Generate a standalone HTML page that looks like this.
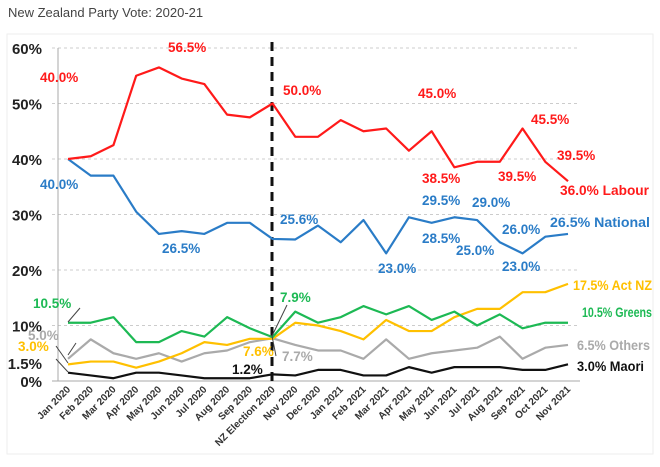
<!DOCTYPE html>
<html><head><meta charset="utf-8">
<style>
body{margin:0;background:#fff;width:660px;height:462px;overflow:hidden;font-family:"Liberation Sans",sans-serif}
svg text{font-family:"Liberation Sans",sans-serif}
</style></head>
<body>
<svg id="chart" width="660" height="462" xmlns="http://www.w3.org/2000/svg">
<text x="8" y="17" font-size="13" fill="#444">New Zealand Party Vote: 2020-21</text>
<rect x="7" y="34" width="646" height="420" fill="none" stroke="#eee"/>
<g id="grid"></g><g id="xlabels"></g><g id="series"></g><g id="ann"></g>
</svg>
<script>
const categories=["Jan 2020","Feb 2020","Mar 2020","Apr 2020","May 2020","Jun 2020","Jul 2020","Aug 2020","Sep 2020","NZ Election 2020","Nov 2020","Dec 2020","Jan 2021","Feb 2021","Mar 2021","Apr 2021","May 2021","Jun 2021","Jul 2021","Aug 2021","Sep 2021","Oct 2021","Nov 2021"];
const labour=[40,40.5,42.5,55,56.5,54.5,53.5,48,47.5,50,44,44,47,45,45.5,41.5,45,38.5,39.5,39.5,45.5,39.5,36];
const national=[40,37,37,30.5,26.5,27,26.5,28.5,28.5,25.6,25.5,28,25,29,23,29.5,28.5,29.5,29,25,23,26,26.5];
const greens=[10.5,10.5,11.5,7,7,9,8,11.5,9.5,7.9,12.5,10.5,11.5,13.5,12,13.5,11,12.5,10,12,9.5,10.5,10.5];
const act=[3,3.5,3.5,2.4,3.5,5,7,6.5,7.6,7.6,10.5,10,9,7.5,11,9,9,11.5,13,13,16,16,17.5];
const others=[4,7.5,5,4,5,3.5,5,5.5,7,7.7,6.5,5.5,5.5,4,7.5,4,5,5.5,6,8,4,6,6.5];
const maori=[1.5,1,0.5,1.5,1.5,1,0.5,0.5,0.5,1.2,1,2,2,1,1,2.5,1.5,2.5,2.5,2.5,2,2,3];
const yTicks=[0,10,20,30,40,50,60];
const NS="http://www.w3.org/2000/svg";
const X0=68,X1=568,Y0=381,PER=5.55;
function x(i){return X0+i*(X1-X0)/(categories.length-1);}
function y(v){return Y0-v*PER;}
function mk(tag,attrs,parent,txt){const e=document.createElementNS(NS,tag);for(const k in attrs)e.setAttribute(k,attrs[k]);if(txt!==undefined)e.textContent=txt;parent.appendChild(e);return e;}
const grid=document.getElementById('grid');
yTicks.forEach(t=>{
 if(t>0){const g=mk('line',{x1:52,x2:580,y1:y(t),y2:y(t),stroke:'#ccc','stroke-dasharray':'3,3'},grid);
 
 }
 const l=mk('text',{x:42,y:y(t)+6,'font-size':15,'font-weight':'bold','text-anchor':'end',fill:'#222'},grid,t+'%');
 
 
});
const l15=mk('text',{x:42,y:369,'font-size':15,'font-weight':'bold','text-anchor':'end',fill:'#222'},grid,'1.5%');


const ax=mk('line',{x1:58,x2:58,y1:48,y2:381,stroke:'#aaa'},grid);


const xa=mk('line',{x1:52,x2:580,y1:381,y2:381,stroke:'#aaa'},grid);


const xl=document.getElementById('xlabels');
categories.forEach((c,i)=>{
 const t=mk('text',{x:x(i)+3,y:390,'font-size':10,'font-weight':'bold','text-anchor':'end',fill:'#333',transform:`rotate(-45 ${x(i)+3} 390)`},xl,c);
 
 
});
const dl=mk('line',{x1:272,x2:272,y1:42,y2:381,stroke:'#111','stroke-width':3,'stroke-dasharray':'9,6'},grid);


const ser=document.getElementById('series');
[[others,'#aaa','others'],[maori,'#111','maori'],[act,'#ffc000','act'],[greens,'#1db954','greens'],[national,'#2a7cc7','national'],[labour,'#ff1a1a','labour']].forEach(([d,c,n])=>{
 const p=mk('polyline',{points:d.map((v,i)=>x(i)+','+y(v)).join(' '),fill:'none',stroke:c,'stroke-width':2.2,'stroke-linejoin':'round'},ser);
 
 
});
const ann=document.getElementById('ann');
const R='#ff1a1a',B='#2a7cc7',G='#1db954',Yl='#ffc000',Gr='#aaa',K='#111';
[[40,82,R,'40.0%'],[168,52,R,'56.5%'],[283,95,R,'50.0%'],[418,98,R,'45.0%'],[531,124,R,'45.5%'],[422,183,R,'38.5%'],[498,181,R,'39.5%'],[557,160,R,'39.5%'],[560,195,R,'36.0% Labour',89],
[40,189,B,'40.0%'],[162,253,B,'26.5%'],[280,224,B,'25.6%'],[378,273,B,'23.0%'],[422,243,B,'28.5%'],[422,205,B,'29.5%'],[456,255,B,'25.0%'],[472,207,B,'29.0%'],[502,234,B,'26.0%'],[502,271,B,'23.0%'],[550,227,B,'26.5% National',100],
[33,308,G,'10.5%'],[280,302,G,'7.9%'],[582,317,G,'10.5% Greens',70],
[573,290,Yl,'17.5% Act NZ',79],[18,351,Yl,'3.0%'],[243,356,Yl,'7.6%'],
[28,340,Gr,'5.0%'],[282,361,Gr,'7.7%'],[577,350,Gr,'6.5% Others',73],
[232,374,K,'1.2%'],[577,371,K,'3.0% Maori',67]].forEach(([xx,yy,c,t,w])=>{
 const a={x:xx,y:yy,'font-size':13.5,'font-weight':'bold',fill:c};
 if(w){a.textLength=w;a.lengthAdjust='spacingAndGlyphs';}
 const e=mk('text',a,ann,t);
 
 
});
[[68,322,80,308,G],[68,363,56,346,Yl],[68,355,76,343,Gr],[68,372,56,359,K],[272,336,287,305,G],[272,336,276,356,Gr]].forEach(([a,b,c2,d,col])=>{
 const e=mk('line',{x1:a,y1:b,x2:c2,y2:d,stroke:'#444','stroke-width':1},ann);
 
 
});
</script>
</body></html>
